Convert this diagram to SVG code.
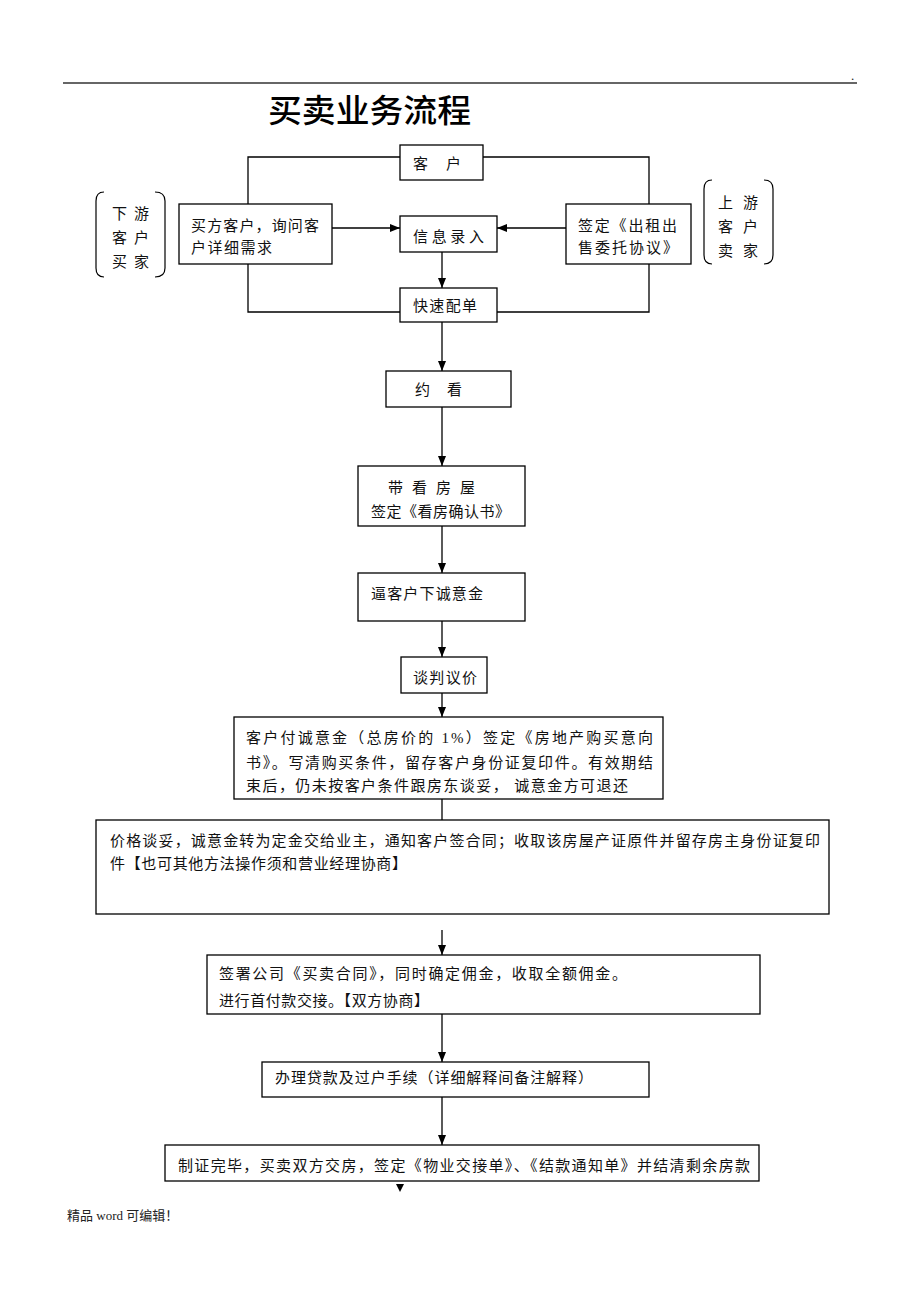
<svg xmlns="http://www.w3.org/2000/svg" width="920" height="1302" viewBox="0 0 920 1302">
<defs>
<style>
.box{fill:#fff;stroke:#000;stroke-width:1.3}
.ln{fill:none;stroke:#000;stroke-width:1.3}
.br{fill:none;stroke:#000;stroke-width:1.2}
.t{font-family:"Liberation Serif","Noto Sans CJK SC",serif;font-size:15px;fill:#111}
.title{font-family:"Noto Sans CJK SC",sans-serif;font-size:32px;font-weight:500;fill:#000}
.foot{font-family:"Liberation Serif","Noto Sans CJK SC",serif;font-size:13px;fill:#222}
</style>
<marker id="ah" markerUnits="userSpaceOnUse" viewBox="0 0 10 8" refX="10" refY="4" markerWidth="10" markerHeight="8" orient="auto">
<path d="M0,0 L10,4 L0,8 z" fill="#000"/>
</marker>
</defs>
<rect width="920" height="1302" fill="#fff"/>

<g id="header">
<line x1="63" y1="83" x2="857" y2="83" stroke="#333" stroke-width="1.5"/>
<text x="851" y="80" class="foot" font-size="8">.</text>
<text x="268" y="122" class="title" textLength="203" lengthAdjust="spacingAndGlyphs">买卖业务流程</text>
</g>

<g id="connectors">
<polyline class="ln" points="248,204 248,157 400,157"/>
<polyline class="ln" points="483,157 649,157 649,204"/>
<polyline class="ln" points="248,264 248,312 400,312"/>
<polyline class="ln" points="497,312 649,312 649,264"/>
<line class="ln" x1="332" y1="228" x2="400" y2="228" marker-end="url(#ah)"/>
<line class="ln" x1="566" y1="228" x2="497" y2="228" marker-end="url(#ah)"/>
<line class="ln" x1="442" y1="252" x2="442" y2="288" marker-end="url(#ah)"/>
<line class="ln" x1="442" y1="322" x2="442" y2="371" marker-end="url(#ah)"/>
<line class="ln" x1="442" y1="407" x2="442" y2="466" marker-end="url(#ah)"/>
<line class="ln" x1="442" y1="526" x2="442" y2="573" marker-end="url(#ah)"/>
<line class="ln" x1="442" y1="621" x2="442" y2="657" marker-end="url(#ah)"/>
<line class="ln" x1="442" y1="693" x2="442" y2="717" marker-end="url(#ah)"/>
<line class="ln" x1="442" y1="799" x2="442" y2="820"/>
<line class="ln" x1="442" y1="930" x2="442" y2="955" marker-end="url(#ah)"/>
<line class="ln" x1="442" y1="1014" x2="442" y2="1062" marker-end="url(#ah)"/>
<line class="ln" x1="442" y1="1097" x2="442" y2="1145" marker-end="url(#ah)"/>
<path d="M396,1184 L404,1184 L400,1192 z" fill="#000"/>
</g>

<g id="node-kehu">
<rect class="box" x="400" y="145" width="83" height="35"/>
<text class="t" x="413" y="169">客</text>
<text class="t" x="446" y="169">户</text>
</g>

<g id="node-buyer-label">
<path class="br" d="M104,192 Q96,192 96,201 L96,268 Q96,277 104,277"/>
<path class="br" d="M155,192 Q165,192 165,201 L165,268 Q165,277 155,277"/>
<text class="t" x="112" y="219">下</text><text class="t" x="134" y="219">游</text>
<text class="t" x="112" y="243">客</text><text class="t" x="134" y="243">户</text>
<text class="t" x="112" y="267">买</text><text class="t" x="134" y="267">家</text>
</g>

<g id="node-buyer">
<rect class="box" x="179" y="204" width="153" height="60"/>
<text class="t" x="191" y="231" textLength="128" lengthAdjust="spacing">买方客户，询问客</text>
<text class="t" x="191" y="253" textLength="81" lengthAdjust="spacing">户详细需求</text>
</g>

<g id="node-info">
<rect class="box" x="400" y="216" width="97" height="36"/>
<text class="t" x="413" y="242" textLength="71" lengthAdjust="spacing">信息录入</text>
</g>

<g id="node-seller">
<rect class="box" x="566" y="204" width="125" height="60"/>
<text class="t" x="578" y="231" textLength="99" lengthAdjust="spacing">签定《出租出</text>
<text class="t" x="578" y="253" textLength="100" lengthAdjust="spacing">售委托协议》</text>
</g>

<g id="node-seller-label">
<path class="br" d="M712,180 Q704,180 704,189 L704,255 Q704,264 712,264"/>
<path class="br" d="M764,180 Q773,180 773,189 L773,255 Q773,264 764,264"/>
<text class="t" x="718" y="208">上</text><text class="t" x="743" y="208">游</text>
<text class="t" x="718" y="232">客</text><text class="t" x="743" y="232">户</text>
<text class="t" x="718" y="256">卖</text><text class="t" x="743" y="256">家</text>
</g>

<g id="node-match">
<rect class="box" x="400" y="288" width="97" height="34"/>
<text class="t" x="413" y="311" textLength="64" lengthAdjust="spacing">快速配单</text>
</g>

<g id="node-appoint">
<rect class="box" x="386" y="371" width="125" height="36"/>
<text class="t" x="415" y="395">约</text>
<text class="t" x="447" y="395">看</text>
</g>

<g id="node-view">
<rect class="box" x="358" y="466" width="167" height="60"/>
<text class="t" x="388" y="493" textLength="87" lengthAdjust="spacing">带看房屋</text>
<text class="t" x="371" y="517" textLength="139" lengthAdjust="spacing">签定《看房确认书》</text>
</g>

<g id="node-deposit">
<rect class="box" x="358" y="573" width="167" height="48"/>
<text class="t" x="371" y="599" textLength="112" lengthAdjust="spacing">逼客户下诚意金</text>
</g>

<g id="node-negotiate">
<rect class="box" x="401" y="657" width="86" height="36"/>
<text class="t" x="413" y="683" textLength="64" lengthAdjust="spacing">谈判议价</text>
</g>

<g id="node-intent">
<rect class="box" x="234" y="717" width="429" height="82"/>
<text class="t" x="246" y="743" textLength="407" lengthAdjust="spacing">客户付诚意金（总房价的 1%）签定《房地产购买意向</text>
<text class="t" x="246" y="768" textLength="407" lengthAdjust="spacing">书》。写清购买条件，留存客户身份证复印件。有效期结</text>
<text class="t" x="246" y="791" textLength="382" lengthAdjust="spacing">束后，仍未按客户条件跟房东谈妥， 诚意金方可退还</text>
</g>

<g id="node-price">
<rect class="box" x="96" y="820" width="733" height="94"/>
<text class="t" x="110" y="846" textLength="710" lengthAdjust="spacing">价格谈妥，诚意金转为定金交给业主，通知客户签合同；收取该房屋产证原件并留存房主身份证复印</text>
<text class="t" x="110" y="869" textLength="297" lengthAdjust="spacing">件【也可其他方法操作须和营业经理协商】</text>
</g>

<g id="node-contract">
<rect class="box" x="207" y="955" width="553" height="59"/>
<text class="t" x="219" y="979" textLength="408" lengthAdjust="spacing">签署公司《买卖合同》，同时确定佣金，收取全额佣金。</text>
<text class="t" x="219" y="1006" textLength="210" lengthAdjust="spacing">进行首付款交接。【双方协商】</text>
</g>

<g id="node-loan">
<rect class="box" x="262" y="1062" width="387" height="35"/>
<text class="t" x="275" y="1083" textLength="318" lengthAdjust="spacing">办理贷款及过户手续（详细解释间备注解释）</text>
</g>

<g id="node-handover">
<rect class="box" x="165" y="1145" width="594" height="36"/>
<text class="t" x="178" y="1171" textLength="572" lengthAdjust="spacing">制证完毕，买卖双方交房，签定《物业交接单》、《结款通知单》并结清剩余房款</text>
</g>

<g id="footer">
<text class="foot" x="67" y="1220">精品 word 可编辑！</text>
</g>
</svg>
